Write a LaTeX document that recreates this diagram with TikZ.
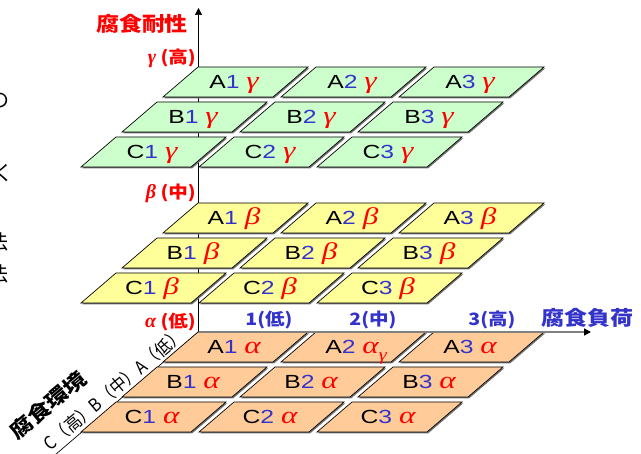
\documentclass[tikz,border=0pt]{standalone}
\usepackage{fontspec}
\setmainfont{Liberation Sans}
\newfontfamily\grk{Liberation Serif}
\newfontfamily\jp{Noto Sans CJK JP}[FakeStretch=1.15]
\newfontfamily\jpn{Noto Sans CJK JP}
\usetikzlibrary{arrows.meta}
\definecolor{tblue}{HTML}{3333CC}
\definecolor{tred}{HTML}{FF0000}
\definecolor{tgreen}{HTML}{CCFFCC}
\definecolor{tyellow}{HTML}{FFFF99}
\definecolor{torange}{HTML}{FFCC99}
\tikzset{
  tileshape/.style={draw=black, line width=0.7pt},
  tileshadow/.style={fill=black!55},
  tilelabel/.style={anchor=base, inner sep=0pt, font=\fontsize{19}{22}\selectfont},
  levlabel/.style={anchor=east, inner sep=0pt, text=tred, font=\jp\bfseries\fontsize{17}{17}\selectfont},
  loadlabel/.style={inner sep=0pt, text=tblue, font=\jp\bfseries\fontsize{17}{17}\selectfont},
  axistitle/.style={inner sep=0pt, font=\jp\bfseries\fontsize{20}{20}\selectfont},
  fragment/.style={inner sep=0pt, font=\jpn\fontsize{20}{20}\selectfont},
  axisline/.style={line width=0.7pt},
  tiptri/.style={-{Triangle[length=7pt,width=7pt,color=black]}}
}
\begin{document}
\begin{tikzpicture}[x=1pt,y=-1pt]
\useasboundingbox (0,0) rectangle (641,454);
% left-edge fragments of cut-off text
\node[fragment] (fr1) at (0,101) {の};
\node[fragment] (fr2) at (4,173) {く};
\node[fragment] (fr3) at (-1,242) {法};
\node[fragment] (fr4) at (-1,274) {法};
% axes coordinates
\coordinate (O) at (198.5,332);
\coordinate (ytip) at (198.5,8);
\coordinate (xtip) at (591,332);
\coordinate (zend) at (48,461);
\draw[axisline,tiptri] (O) -- (ytip);
\draw[axisline] (O) -- (zend);
% tiles
\foreach \lev/\yy/\fc/\gk in {g/67/tgreen/γ, b/203/tyellow/β, a/332/torange/α} {
  \foreach \r/\L in {0/A,1/B,2/C} {
    \foreach \c in {1,2,3} {
      \pgfmathsetmacro\xx{198-41*\r+118*(\c-1)}
      \pgfmathsetmacro\ty{\yy+35*\r}
      \fill[tileshadow,shift={(1.3,1.3)}] (\xx,\ty) -- ++(110,0) -- ++(-35,30) -- ++(-110,0) -- cycle;
      \filldraw[tileshape,fill=\fc] (\xx,\ty) -- ++(110,0) -- ++(-35,30) -- ++(-110,0) -- cycle;
      \node[tilelabel] (\L\c\lev) at (\xx+36,\ty+22) {\scalebox{1.3}[1]{\L\textcolor{tblue}{\c}\ {\grk\itshape\fontsize{24}{24}\selectfont\textcolor{tred}{\gk}}}};
    }
  }
}
% horizontal axis (drawn over the A row)
\draw[black!50,line width=1.4pt,tiptri] (O) -- (xtip);
% stray gamma
\node[inner sep=0pt, text=tred, font=\grk\itshape\fontsize{17}{17}\selectfont] (stray) at (383,358) {\scalebox{1.2}[1]{γ}};
% vertical axis labels
\node[axistitle, text=tred] (ttl) at (142,24) {腐食耐性};
\node[levlabel] (lg) at (196,58) {{\grk\itshape\fontsize{20}{20}\selectfont γ} (高)};
\node[levlabel] (lb) at (196,193) {{\grk\itshape\fontsize{20}{20}\selectfont β} (中)};
\node[levlabel] (la) at (196,322) {{\grk\itshape\fontsize{20}{20}\selectfont α} (低)};
% horizontal axis labels
\node[loadlabel] (l1) at (269,320) {1(低)};
\node[loadlabel] (l2) at (373,320) {2(中)};
\node[loadlabel] (l3) at (492,320) {3(高)};
\node[axistitle, text=tblue] (ttl2) at (587,318) {腐食負荷};
% depth axis labels
\node[rotate=40, inner sep=0pt, font=\jpn\fontsize{18}{18}\selectfont] (envsc) at (114,389) {\scalebox{0.9}[1]{C（高）B（中）A（低）}};
\node[rotate=40, inner sep=0pt, font=\jp\bfseries\fontsize{20}{20}\selectfont] (envlab) at (48,405) {腐食環境};
\end{tikzpicture}
\end{document}
